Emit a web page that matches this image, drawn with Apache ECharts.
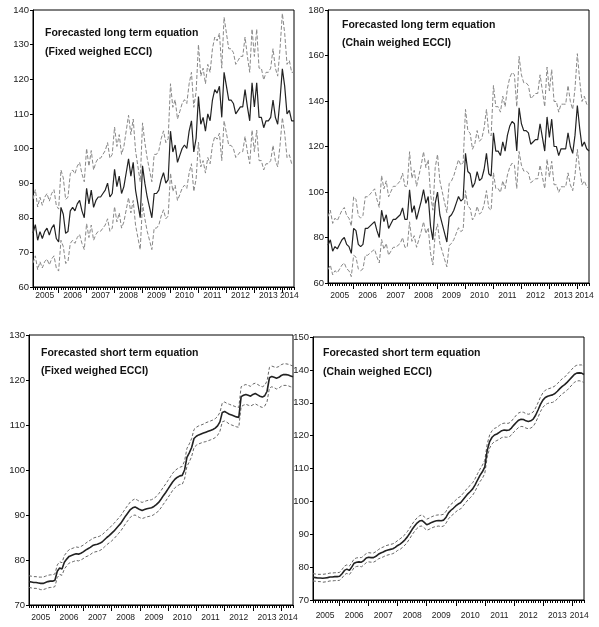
<!DOCTYPE html>
<head>
    <meta charset="utf-8">
    <title>ECCI forecasts</title>
    <script src="https://cdn.jsdelivr.net/npm/echarts@6/dist/echarts.min.js"></script>
    <style>
        html, body { margin: 0; padding: 0; background: #fff; }
    </style>
</head>
<body>
<div id="main" style="width:599px;height:627px"></div>
<script type="text/javascript">
// monthly observations, 2005M02 .. 2014M06
var months = [];
for (var i = 0; i < 113; i++) {
    var y = 2005 + Math.floor((i + 1) / 12);
    var m = (i + 1) % 12 + 1;
    months.push(y + 'M' + (m < 10 ? '0' + m : m));
}
var yearLabels = ['2005','2006','2007','2008','2009','2010','2011','2012','2013','2014'];

// long term equation, fixed weighed ECCI
var longFixedMid = [75.6,78,73.5,76,74,76,77,75,77,78,74,73,83,81,75.5,76,82,83,82,84,85,82,80,88.5,84,88,83,85,86,86,87,88,90,86,87,94,89,92,87,89,93,97,92,96,88,84,80,95,90,86,83,80,87,87,88,91,93,90,91,105,99,101,96,98,100,101,100,105,108,99,103,115,107,109,105,110,108,114,117,116,118,109,122,118,114,114,113,110,111,112,112,117,112,108,119,112,119,109,109,106,108,108,109,114,109,107,114,123,118,110,111,108,108];
var longFixedUp = [85.4,88.1,83.1,85.9,83.6,85.9,87,84.8,87,88.1,83.6,82.5,93.8,91.5,85.3,85.9,92.7,93.8,92.7,94.9,96,92.7,90.4,100,94.9,99.4,93.8,96,97.2,97.2,98.3,99.4,101.7,97.2,98.3,106.2,100.6,104,98.3,100.6,105.1,109.6,104,108.5,99.4,94.9,90.4,107.4,101.7,97.2,93.8,90.4,98.3,98.3,99.4,102.8,105.1,101.7,102.8,118.7,111.9,114.1,108.5,110.7,113,114.1,113,118.7,122,111.9,116.4,130,120.9,123.2,118.7,124.3,122,128.8,132.2,131.1,133.3,123.2,137.9,133.3,128.8,128.8,127.7,124.3,125.4,126.6,126.6,132.2,126.6,122,134.5,126.6,134.5,123.2,123.2,119.8,122,122,123.2,128.8,123.2,120.9,128.8,139,133.3,124.3,125.4,122,122];
var longFixedLo = [66.9,69,65,67.3,65.5,67.3,68.1,66.4,68.1,69,65.5,64.6,73.5,71.7,66.8,67.3,72.6,73.5,72.6,74.3,75.2,72.6,70.8,78.3,74.3,77.9,73.5,75.2,76.1,76.1,77,77.9,79.7,76.1,77,83.2,78.8,81.4,77,78.8,82.3,85.8,81.4,85,77.9,74.3,70.8,84.1,79.7,76.1,73.5,70.8,77,77,77.9,80.5,82.3,79.7,80.5,92.9,87.6,89.4,85,86.7,88.5,89.4,88.5,92.9,95.6,87.6,91.2,101.8,94.7,96.5,92.9,97.4,95.6,100.9,103.5,102.7,104.4,96.5,108,104.4,100.9,100.9,100,97.4,98.2,99.1,99.1,103.5,99.1,95.6,105.3,99.1,105.3,96.5,96.5,93.8,95.6,95.6,96.5,100.9,96.5,94.7,100.9,108.9,104.4,97.4,98.2,95.6,95.6];

// long term equation, chain weighed ECCI
var longChainMid = [76.6,79,74,76,75,77,79,80,77,76,73,84,83,77,76,77,84,84,85,86,87,83,80,92,87,90,84,86,88,88,89,90,93,88,88,101,91,94,88,92,96,101,95,98,85,79,95,100,90,86,82,78,89,90,92,95,98,96,97,117,109,108,102,104,109,105,106,110,117,108,107,126,118,118,116,122,118,125,129,131,130,118,137,130,127,127,126,121,122,123,123,130,124,118,133,124,132,120,120,116,119,119,119,126,120,117,125,138,128,120,122,119,118];
var longChainUp = [89.2,92,86.2,88.5,87.4,89.7,92,93.2,89.7,88.5,85,97.9,96.7,89.7,88.5,89.7,97.9,97.9,99,100.2,101.4,96.7,93.2,107.2,101.4,104.9,97.9,100.2,102.5,102.5,103.7,104.9,108.3,102.5,102.5,117.7,106,109.5,102.5,107.2,111.8,117.7,110.7,114.2,99,92,110.7,116.5,104.9,100.2,95.5,90.9,103.7,104.9,107.2,110.7,114.2,111.8,113,136.3,127,125.8,118.8,121.2,127,122.3,123.5,128.2,136.3,125.8,124.7,146.8,137.5,137.5,135.1,142.1,137.5,145.6,150.3,152.6,151.5,137.5,159.6,151.5,148,148,146.8,141,142.1,143.3,143.3,151.5,144.5,137.5,154.9,144.5,153.8,139.8,139.8,135.1,138.6,138.6,138.6,146.8,139.8,136.3,145.6,160.8,149.1,139.8,142.1,138.6,137.5];
var longChainLo = [65.9,67.9,63.6,65.4,64.5,66.2,67.9,68.8,66.2,65.4,62.8,72.2,71.4,66.2,65.4,66.2,72.2,72.2,73.1,74,74.8,71.4,68.8,79.1,74.8,77.4,72.2,74,75.7,75.7,76.5,77.4,80,75.7,75.7,86.9,78.3,80.8,75.7,79.1,82.6,86.9,81.7,84.3,73.1,67.9,81.7,86,77.4,74,70.5,67.1,76.5,77.4,79.1,81.7,84.3,82.6,83.4,100.6,93.7,92.9,87.7,89.4,93.7,90.3,91.2,94.6,100.6,92.9,92,108.4,101.5,101.5,99.8,104.9,101.5,107.5,110.9,112.7,111.8,101.5,117.8,111.8,109.2,109.2,108.4,104.1,104.9,105.8,105.8,111.8,106.6,101.5,114.4,106.6,113.5,103.2,103.2,99.8,102.3,102.3,102.3,108.4,103.2,100.6,107.5,118.7,110.1,103.2,104.9,102.3,101.5];

// short term equation, fixed weighed ECCI
var shortFixedMid = [75.2,75.1,75.0,75.0,74.9,74.8,74.8,75.0,75.2,75.3,75.3,75.5,77.5,78.2,78.0,79.5,80.2,80.8,81.0,81.2,81.4,81.3,81.5,81.8,82.2,82.5,82.8,83.2,83.4,83.5,83.7,84.0,84.5,85.0,85.4,85.9,86.4,87.0,87.6,88.2,89.0,89.8,90.5,91.2,91.6,91.8,91.5,91.2,91.0,91.2,91.4,91.5,91.6,91.9,92.3,92.8,93.5,94.3,95.0,95.8,96.6,97.4,98.0,98.4,98.7,98.8,100.0,102.8,103.8,105.0,107.0,107.5,107.8,108.0,108.2,108.4,108.6,108.8,109.0,109.3,109.8,110.7,112.8,113.0,112.7,112.4,112.2,112.0,111.8,111.7,116.3,116.6,116.8,116.6,116.4,116.8,117.0,116.7,116.4,116.2,116.5,117.5,120.5,120.8,120.6,120.4,120.6,121.0,121.2,121.2,121.1,120.9,120.7];
var shortFixedUp = [76.5,76.4,76.3,76.3,76.2,76.2,76.2,76.4,76.6,76.7,76.7,76.9,78.9,79.6,79.4,81.0,81.7,82.3,82.5,82.7,82.9,82.8,83.0,83.3,83.7,84.1,84.4,84.8,85.0,85.1,85.3,85.6,86.1,86.6,87.0,87.6,88.1,88.7,89.3,89.9,90.7,91.5,92.2,92.9,93.3,93.6,93.3,93.0,92.8,93.0,93.2,93.3,93.4,93.7,94.1,94.7,95.4,96.2,96.9,97.7,98.5,99.3,99.9,100.3,100.6,100.8,102.0,104.8,105.8,107.0,109.0,109.5,109.8,110.0,110.2,110.5,110.7,110.9,111.1,111.4,111.9,112.8,114.9,115.1,114.8,114.6,114.4,114.2,114.0,113.9,118.5,118.8,119.0,118.8,118.6,119.1,119.3,119.0,118.7,118.5,118.8,119.8,122.8,123.1,122.9,122.8,123.0,123.4,123.6,123.6,123.5,123.3,123.1];
var shortFixedLo = [73.9,73.8,73.7,73.7,73.6,73.4,73.4,73.6,73.8,73.9,73.9,74.1,76.1,76.8,76.6,78.0,78.7,79.3,79.5,79.7,79.9,79.8,80.0,80.3,80.7,80.9,81.2,81.6,81.8,81.9,82.1,82.4,82.9,83.4,83.8,84.2,84.7,85.3,85.9,86.5,87.3,88.1,88.8,89.5,89.9,90.0,89.7,89.4,89.2,89.4,89.6,89.7,89.8,90.1,90.5,90.9,91.6,92.4,93.1,93.9,94.7,95.5,96.1,96.5,96.8,96.8,98.0,100.8,101.8,103.0,105.0,105.5,105.8,106.0,106.2,106.3,106.5,106.7,106.9,107.2,107.7,108.6,110.7,110.9,110.6,110.2,110.0,109.8,109.6,109.5,114.1,114.4,114.6,114.4,114.2,114.5,114.7,114.4,114.1,113.9,114.2,115.2,118.2,118.5,118.3,118.0,118.2,118.6,118.8,118.8,118.7,118.5,118.3];

// short term equation, chain weighed ECCI
var shortChainMid = [76.9,76.8,76.7,76.7,76.6,76.7,76.8,77.0,77.0,77.1,77.1,77.2,78.0,79.0,79.4,79.0,80.0,81.2,81.5,81.6,81.5,82.0,82.8,83.0,82.9,82.9,83.3,83.9,84.3,84.6,85.0,85.2,85.4,85.6,86.0,86.6,87.0,87.6,88.3,89.2,90.3,91.5,92.5,93.4,94.0,94.2,93.6,92.9,93.2,93.6,93.9,94.1,94.2,94.1,94.3,95.2,96.5,97.3,97.9,98.6,99.2,99.6,100.5,101.4,102.3,103.0,103.8,105.0,106.5,107.9,109.0,110.5,115.5,118.2,119.5,120.2,120.5,121.0,121.5,121.7,121.6,121.7,122.3,123.2,124.0,124.7,125.0,124.9,124.5,124.3,124.5,125.0,126.2,127.8,129.5,130.8,131.6,132.0,132.2,132.4,132.8,133.5,134.3,135.0,135.5,136.2,137.0,137.8,138.6,139.0,139.1,139.0,138.6];
var shortChainUp = [78.0,77.9,77.8,77.8,77.8,77.9,78.0,78.2,78.2,78.3,78.3,78.4,79.3,80.3,80.7,80.3,81.3,82.5,82.8,82.9,82.9,83.4,84.2,84.4,84.3,84.3,84.7,85.3,85.8,86.1,86.5,86.7,86.9,87.1,87.5,88.1,88.6,89.2,89.9,90.8,91.9,93.1,94.1,95.0,95.6,95.9,95.3,94.6,94.9,95.3,95.6,95.8,95.9,95.9,96.1,97.0,98.3,99.1,99.7,100.4,101.1,101.5,102.4,103.3,104.2,104.9,105.7,106.9,108.4,109.8,111.0,112.5,117.5,120.2,121.5,122.2,122.5,123.1,123.6,123.8,123.7,123.8,124.4,125.3,126.2,126.9,127.2,127.1,126.7,126.5,126.7,127.2,128.4,130.0,131.7,133.0,133.8,134.2,134.4,134.7,135.1,135.8,136.6,137.3,137.8,138.6,139.4,140.2,141.0,141.4,141.5,141.5,141.1];
var shortChainLo = [75.8,75.7,75.6,75.6,75.4,75.5,75.6,75.8,75.8,75.9,75.9,76.0,76.7,77.7,78.1,77.7,78.7,79.9,80.2,80.3,80.1,80.6,81.4,81.6,81.5,81.5,81.9,82.5,82.8,83.1,83.5,83.7,83.9,84.1,84.5,85.1,85.4,86.0,86.7,87.6,88.7,89.9,90.9,91.8,92.4,92.5,91.9,91.2,91.5,91.9,92.2,92.4,92.5,92.3,92.5,93.4,94.7,95.5,96.1,96.8,97.4,97.7,98.6,99.5,100.4,101.1,101.9,103.1,104.6,106.0,107.0,108.5,113.5,116.2,117.5,118.2,118.5,118.9,119.4,119.6,119.5,119.6,120.2,121.1,121.8,122.5,122.8,122.7,122.3,122.1,122.3,122.8,124.0,125.6,127.3,128.6,129.4,129.8,130.0,130.1,130.5,131.2,132.0,132.7,133.2,133.8,134.6,135.4,136.2,136.6,136.7,136.5,136.1];

var panels = [
    { title: 'Forecasted long term equation\n(Fixed weighed ECCI)', mid: longFixedMid, up: longFixedUp, lo: longFixedLo,
      grid: { left: 33, top: 10, width: 261, height: 277 }, min: 60, max: 140, step: 10, tx: 45, ty: 24, lh: 19, xm: 4,
      band: { type: [4, 2], color: '#888', width: 1 } },
    { title: 'Forecasted long term equation\n(Chain weighed ECCI)', mid: longChainMid, up: longChainUp, lo: longChainLo,
      grid: { left: 328, top: 10, width: 261, height: 273 }, min: 60, max: 180, step: 20, tx: 342, ty: 16, lh: 18, xm: 8,
      band: { type: [4, 2], color: '#888', width: 1 } },
    { title: 'Forecasted short term equation\n(Fixed weighed ECCI)', mid: shortFixedMid, up: shortFixedUp, lo: shortFixedLo,
      grid: { left: 29, top: 335, width: 264, height: 270 }, min: 70, max: 130, step: 10, tx: 41, ty: 344, lh: 18, xm: 8,
      band: { type: [3, 2], color: '#666', width: 1 } },
    { title: 'Forecasted short term equation\n(Chain weighed ECCI)', mid: shortChainMid, up: shortChainUp, lo: shortChainLo,
      grid: { left: 313, top: 337, width: 271, height: 263 }, min: 70, max: 150, step: 10, tx: 323, ty: 344, lh: 19, xm: 11,
      band: { type: [3, 2], color: '#666', width: 1 } }
];

var numFont = 'Liberation Sans, Arial, sans-serif';

var option = { animation: false, backgroundColor: '#fff', title: [], grid: [], xAxis: [], yAxis: [], series: [] };

panels.forEach(function (p, k) {
    option.grid.push({ left: p.grid.left, top: p.grid.top, width: p.grid.width, height: p.grid.height,
        show: true, borderColor: '#000', borderWidth: 1, backgroundColor: '#fff' });
    option.title.push({ text: p.title, left: p.tx, top: p.ty, padding: 0,
        textStyle: { fontFamily: numFont, fontWeight: 'bold', fontSize: 10.5, color: '#111', lineHeight: p.lh } });
    // month ticks
    option.xAxis.push({ type: 'category', gridIndex: k, data: months, boundaryGap: false, position: 'bottom',
        axisLine: { show: true, lineStyle: { color: '#000', width: 1 } },
        axisTick: { show: true, interval: 0, length: 3, lineStyle: { color: '#000' } },
        axisLabel: { show: false }, splitLine: { show: false } });
    // year ticks and labels
    option.xAxis.push({ type: 'category', gridIndex: k, data: months, boundaryGap: false, position: 'bottom',
        axisLine: { show: false },
        axisTick: { show: true, length: 6, lineStyle: { color: '#000' },
            interval: function (i) { return (i + 1) % 12 === 0; } },
        axisLabel: { show: true, margin: p.xm, interval: 0, hideOverlap: false,
            showMinLabel: true, showMaxLabel: true,
            fontFamily: numFont, fontSize: 8.5, color: '#222',
            formatter: function (v, i) {
                return ((i + 1) % 12 === 6 || i === 110) ? yearLabels[Math.floor((i + 1) / 12)] : '';
            } },
        splitLine: { show: false } });
    option.yAxis.push({ type: 'value', gridIndex: k, min: p.min, max: p.max, interval: p.step,
        axisLine: { show: true, lineStyle: { color: '#000' } },
        axisTick: { show: true, length: 3, lineStyle: { color: '#000' } },
        axisLabel: { margin: 4, fontFamily: numFont, fontSize: 9.5, color: '#222' },
        splitLine: { show: false } });
    option.series.push({ type: 'line', xAxisIndex: 2 * k, yAxisIndex: k, data: p.up, showSymbol: false,
        lineStyle: p.band, z: 2 });
    option.series.push({ type: 'line', xAxisIndex: 2 * k, yAxisIndex: k, data: p.lo, showSymbol: false,
        lineStyle: p.band, z: 2 });
    option.series.push({ type: 'line', xAxisIndex: 2 * k, yAxisIndex: k, data: p.mid, showSymbol: false,
        lineStyle: { color: '#222', width: k < 2 ? 1.2 : 1.6 }, z: 3 });
});

var myChart = echarts.init(document.getElementById('main'));
myChart.setOption(option);
</script>
</body>
